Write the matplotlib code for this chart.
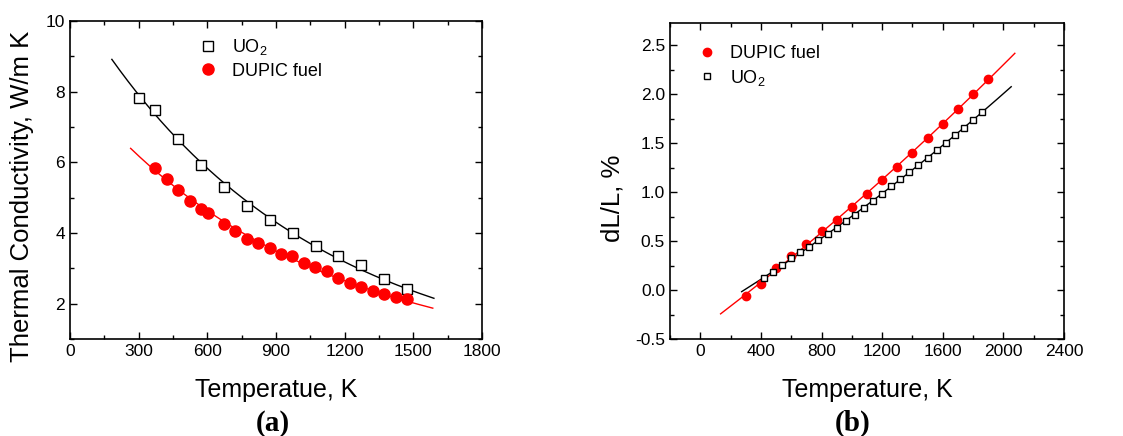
import numpy as np
import matplotlib
matplotlib.use("Agg")
import matplotlib.pyplot as plt
from matplotlib.ticker import MultipleLocator

plt.rcParams['font.family'] = ['Liberation Sans', 'DejaVu Sans']
plt.rcParams['mathtext.fontset'] = 'custom'
plt.rcParams['mathtext.rm'] = 'Liberation Sans'
plt.rcParams['mathtext.it'] = 'Liberation Sans'

# (a) thermal conductivity
uo2_T = [300, 373, 473, 573, 673, 773, 873, 973, 1073, 1173, 1273, 1373, 1473]
uo2_k = [7.83, 7.48, 6.65, 5.91, 5.31, 4.77, 4.38, 3.99, 3.64, 3.34, 3.09, 2.69, 2.42]
dupic_T = [372, 425, 473, 524, 573, 604, 674, 723, 773, 822, 872, 924, 972,
           1021, 1072, 1123, 1173, 1222, 1273, 1323, 1372, 1423, 1472]
dupic_k = [5.85, 5.52, 5.22, 4.90, 4.68, 4.56, 4.25, 4.07, 3.83, 3.71, 3.57, 3.41, 3.34,
           3.14, 3.04, 2.91, 2.74, 2.59, 2.46, 2.37, 2.28, 2.20, 2.12]
# end points of the fitted curves
uo2_k_ends_T = [183, 1590]
uo2_k_ends = [9.05, 2.08]
dupic_k_ends_T = [265, 1585]
dupic_k_ends = [6.55, 1.78]

# (b) thermal expansion
dupic_Tb = [300, 400, 500, 600, 700, 800, 900, 1000, 1100, 1200, 1300, 1400,
            1500, 1600, 1700, 1800, 1900]
dupic_dl = [-0.06, 0.06, 0.22, 0.35, 0.47, 0.60, 0.72, 0.85, 0.98, 1.12, 1.26, 1.40,
            1.55, 1.70, 1.85, 2.00, 2.15]
uo2_Tb = [420, 480, 540, 600, 660, 720, 780, 840, 900, 960, 1020, 1080, 1140, 1200,
          1260, 1320, 1380, 1440, 1500, 1560, 1620, 1680, 1740, 1800, 1860]
uo2_dl = [0.12, 0.185, 0.253, 0.332, 0.387, 0.442, 0.514, 0.572, 0.630, 0.705, 0.771,
          0.839, 0.911, 0.983, 1.058, 1.130, 1.202, 1.281, 1.353, 1.432, 1.503, 1.579,
          1.658, 1.733, 1.815]
dupic_dl_range = (134, 2076)
uo2_dl_range = (273, 2052)


def fitline(x, y, rng, deg=2, log=False):
    y = np.asarray(y, float)
    p = np.polyfit(x, np.log(y) if log else y, deg)
    t = np.linspace(rng[0], rng[1], 200)
    v = np.polyval(p, t)
    return t, (np.exp(v) if log else v)


def style(ax):
    ax.tick_params(which='both', direction='in', top=True, right=True, labelsize=12.5)
    ax.tick_params(which='major', length=5, width=1)
    ax.tick_params(which='minor', length=3, width=1)
    for s in ax.spines.values():
        s.set_linewidth(1.2)


fig = plt.figure(figsize=(11.23, 4.36), dpi=100)
ax1 = fig.add_axes([0.0623, 0.2225, 0.3669, 0.7294])
ax2 = fig.add_axes([0.5966, 0.2225, 0.3508, 0.7255])

# panel a
t, k = fitline(uo2_T + uo2_k_ends_T, uo2_k + uo2_k_ends,
               (uo2_k_ends_T[0], uo2_k_ends_T[-1]), deg=2, log=True)
ax1.plot(t, k, color='black', lw=1)
t, k = fitline(dupic_T + dupic_k_ends_T, dupic_k + dupic_k_ends,
               (dupic_k_ends_T[0], dupic_k_ends_T[-1]), deg=2, log=True)
ax1.plot(t, k, color='red', lw=1)
ax1.plot(uo2_T, uo2_k, ls='none', marker='s', ms=7, mfc='white', mec='black',
         mew=1, label=r'UO$_2$')
ax1.plot(dupic_T, dupic_k, ls='none', marker='o', ms=8, mfc='red', mec='red',
         label='DUPIC fuel')
ax1.set_xlim(0, 1800)
ax1.set_ylim(1, 10)
ax1.xaxis.set_major_locator(MultipleLocator(300))
ax1.xaxis.set_minor_locator(MultipleLocator(150))
ax1.yaxis.set_major_locator(MultipleLocator(2))
ax1.yaxis.set_minor_locator(MultipleLocator(1))
style(ax1)
ax1.set_xlabel('Temperatue, K', fontsize=18, labelpad=14)
ax1.set_ylabel('Thermal Conductivity, W/m K', fontsize=18.5, va='center')
ax1.yaxis.set_label_coords(-0.117, 0.45)
ax1.legend(loc='upper left', bbox_to_anchor=(0.27, 1.0), frameon=False,
           fontsize=13, handletextpad=0.7, labelspacing=0.3, handlelength=1.2)

# panel b
t, d = fitline(dupic_Tb, dupic_dl, dupic_dl_range)
ax2.plot(t, d, color='red', lw=1)
t, d = fitline(uo2_Tb, uo2_dl, uo2_dl_range)
ax2.plot(t, d, color='black', lw=1)
ax2.plot(dupic_Tb, dupic_dl, ls='none', marker='o', ms=6, mfc='red', mec='red',
         label='DUPIC fuel')
ax2.plot(uo2_Tb, uo2_dl, ls='none', marker='s', ms=5, mfc='white', mec='black',
         mew=1, label=r'UO$_2$')
ax2.set_xlim(-200, 2400)
ax2.set_ylim(-0.5, 2.73)
ax2.xaxis.set_major_locator(MultipleLocator(400))
ax2.xaxis.set_minor_locator(MultipleLocator(200))
ax2.yaxis.set_major_locator(MultipleLocator(0.5))
ax2.yaxis.set_minor_locator(MultipleLocator(0.25))
ax2.yaxis.set_major_formatter(matplotlib.ticker.FormatStrFormatter('%.1f'))
style(ax2)
ax2.set_xlabel('Temperature, K', fontsize=18, labelpad=14)
ax2.set_ylabel('dL/L, %', fontsize=18.5, va='center')
ax2.yaxis.set_label_coords(-0.145, 0.446)
ax2.legend(loc='upper left', bbox_to_anchor=(0.025, 0.98), frameon=False,
           fontsize=13, handletextpad=0.7, labelspacing=0.3, handlelength=1.2)

fig.text(0.2425, 0.012, '(a)', family='Liberation Serif', weight='bold',
         fontsize=21, ha='center')
fig.text(0.7595, 0.012, '(b)', family='Liberation Serif', weight='bold',
         fontsize=21, ha='center')

fig.savefig('out.png', dpi=100)
